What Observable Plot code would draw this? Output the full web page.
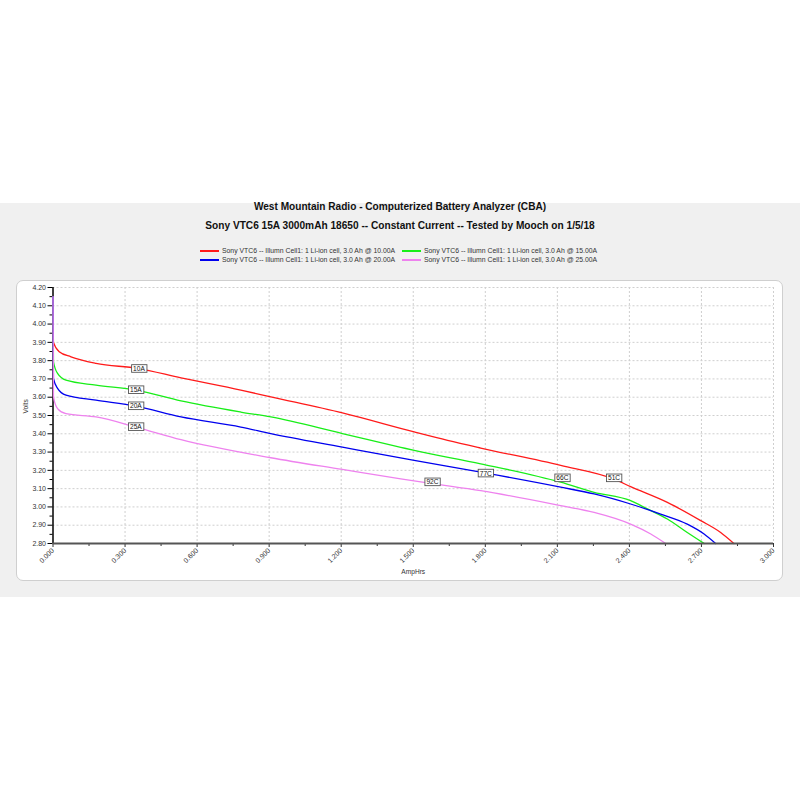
<!DOCTYPE html>
<html>
<head>
<meta charset="utf-8">
<script src="https://cdn.jsdelivr.net/npm/d3@7"></script>
<script src="https://cdn.jsdelivr.net/npm/@observablehq/plot@0.6"></script>
<style>
  html, body { margin: 0; padding: 0; background: #ffffff; width: 800px; height: 800px; overflow: hidden; font-family: "Liberation Sans", Arial, sans-serif; }
  #band { position: absolute; left: 0; top: 203px; width: 800px; height: 394px; background: #f0f0f0; }
  .title { position: absolute; left: 0; width: 800px; text-align: center; font-weight: bold; color: #111; white-space: nowrap; }
  #panel { position: absolute; left: 16px; top: 280px; width: 765px; height: 299px; background: #fff; border: 1px solid #cfcfcf; border-radius: 7px; }
  #chart { position: absolute; left: 16px; top: 280px; }
  .leg { position: absolute; font-size: 6.85px; color: #333; white-space: nowrap; line-height: 8px; }
  .legline { position: absolute; height: 2px; width: 19px; }
</style>
</head>
<body>
<div id="band"></div>
<div class="title" style="top:201px;font-size:10.1px;line-height:12px;">West Mountain Radio - Computerized Battery Analyzer (CBA)</div>
<div class="title" style="top:220px;font-size:10.15px;line-height:12px;">Sony VTC6 15A 3000mAh 18650 -- Constant Current -- Tested by Mooch on 1/5/18</div>
<div id="legend"></div>
<div id="panel"></div>
<div id="chart"></div>
<script>
// ---- data ----
const seriesNames = [
  "Sony VTC6 -- Illumn Cell1: 1 Li-ion cell, 3.0 Ah @ 10.00A",
  "Sony VTC6 -- Illumn Cell1: 1 Li-ion cell, 3.0 Ah @ 15.00A",
  "Sony VTC6 -- Illumn Cell1: 1 Li-ion cell, 3.0 Ah @ 20.00A",
  "Sony VTC6 -- Illumn Cell1: 1 Li-ion cell, 3.0 Ah @ 25.00A"
];
const seriesColors = ["#ff1a1a", "#18ee18", "#0000ee", "#ee82ee"];

const ampHrs10 = [0, 0.002, 0.026, 0.075, 0.179, 0.352, 0.533, 0.782, 0.907, 1.205, 1.504, 1.643, 1.781, 2.114, 2.336, 2.405, 2.558, 2.697, 2.780, 2.835];
const volts10  = [4.15, 3.90, 3.849, 3.821, 3.785, 3.758, 3.706, 3.639, 3.602, 3.514, 3.410, 3.364, 3.322, 3.227, 3.152, 3.111, 3.025, 2.925, 2.860, 2.800];

const ampHrs15 = [0, 0.002, 0.019, 0.054, 0.179, 0.345, 0.533, 0.782, 0.907, 1.205, 1.448, 1.504, 1.781, 2.114, 2.253, 2.405, 2.475, 2.558, 2.641, 2.711];
const volts15  = [4.15, 3.794, 3.730, 3.693, 3.666, 3.639, 3.580, 3.519, 3.492, 3.401, 3.326, 3.309, 3.236, 3.135, 3.080, 3.034, 2.989, 2.934, 2.860, 2.800];

const ampHrs20 = [0, 0.002, 0.019, 0.054, 0.179, 0.345, 0.533, 0.782, 0.907, 1.205, 1.504, 1.781, 2.114, 2.253, 2.405, 2.530, 2.641, 2.711, 2.759];
const volts20  = [4.15, 3.703, 3.648, 3.611, 3.584, 3.551, 3.492, 3.437, 3.401, 3.327, 3.254, 3.190, 3.108, 3.071, 3.016, 2.961, 2.906, 2.852, 2.800];

const ampHrs25 = [0, 0.002, 0.019, 0.054, 0.179, 0.345, 0.533, 0.907, 1.205, 1.448, 1.580, 1.781, 2.114, 2.253, 2.405, 2.489, 2.551];
const volts25  = [4.15, 3.602, 3.538, 3.510, 3.492, 3.437, 3.368, 3.269, 3.205, 3.154, 3.128, 3.089, 3.007, 2.970, 2.906, 2.852, 2.800];

const labelText = ["10A", "15A", "20A", "25A", "92C", "77C", "66C", "51C"];
const labelAmpHrs = [0.358, 0.345, 0.345, 0.345, 1.580, 1.802, 2.121, 2.336];
const labelVolts  = [3.755, 3.639, 3.551, 3.437, 3.135, 3.183, 3.157, 3.157];

const xTicks = [0, 0.3, 0.6, 0.9, 1.2, 1.5, 1.8, 2.1, 2.4, 2.7, 3.0];
const xMinorTicks = [0.15, 0.45, 0.75, 1.05, 1.35, 1.65, 1.95, 2.25, 2.55, 2.85];
const yTicks = [2.8, 2.9, 3.0, 3.1, 3.2, 3.3, 3.4, 3.5, 3.6, 3.7, 3.8, 3.9, 4.0, 4.1, 4.2];
const yMinorTicks = [2.85, 2.95, 3.05, 3.15, 3.25, 3.35, 3.45, 3.55, 3.65, 3.75, 3.85, 3.95, 4.05, 4.15];

// ---- build table ----
const xs = [ampHrs10, ampHrs15, ampHrs20, ampHrs25];
const ys = [volts10, volts15, volts20, volts25];
const rows = [];
xs.forEach((arr, i) => arr.forEach((x, j) => rows.push({series: seriesNames[i], ah: x, v: ys[i][j]})));
const labels = labelText.map((t, i) => ({t, ah: labelAmpHrs[i], v: labelVolts[i]}));

// ---- legend ----
const legend = document.getElementById("legend");
const legPos = [[200, 247], [402, 247], [200, 255.5], [402, 255.5]];
seriesNames.forEach((name, i) => {
  const [lx, ly] = legPos[i];
  const ln = document.createElement("div");
  ln.className = "legline";
  ln.style.left = lx + "px"; ln.style.top = (ly + 3) + "px"; ln.style.background = seriesColors[i];
  legend.appendChild(ln);
  const tx = document.createElement("div");
  tx.className = "leg";
  tx.style.left = (lx + 22) + "px"; tx.style.top = ly + "px";
  tx.textContent = name;
  legend.appendChild(tx);
});

// ---- chart ----
const chart = Plot.plot({
  width: 767,
  height: 300,
  marginLeft: 36.5,
  marginRight: 10,
  marginTop: 7,
  marginBottom: 37,
  style: {fontFamily: "Liberation Sans, Arial, sans-serif", fontSize: "7px", background: "transparent", color: "#333"},
  x: {domain: [0, 3.0]},
  y: {domain: [2.8, 4.2]},
  color: {domain: seriesNames, range: seriesColors},
  marks: [
    Plot.gridX(xTicks.filter(d => d > 0), {stroke: "#cfcfcf", strokeOpacity: 1, strokeDasharray: "2,2"}),
    Plot.gridY(yTicks.filter(d => d > 2.8), {stroke: "#cfcfcf", strokeOpacity: 1, strokeDasharray: "2,2"}),
    Plot.axisY(yTicks, {tickFormat: d3.format(".2f"), tickSize: 5, tickPadding: 2, stroke: "#000", label: null, fill: "#333"}),
    Plot.axisY(yMinorTicks, {tickSize: 3, text: null, stroke: "#000", label: null}),
    Plot.axisX(xTicks, {tickFormat: d3.format(".3f"), tickSize: 4, tickPadding: 2, tickRotate: -45, stroke: "#333", label: null, fill: "#333"}),
    Plot.axisX(xMinorTicks, {tickSize: 3, text: null, stroke: "#333", label: null}),
    Plot.ruleX([0], {stroke: "#000", strokeWidth: 1.5}),
    Plot.line(rows, {x: "ah", y: "v", z: "series", stroke: "series", strokeWidth: 1.3, curve: "monotone-x"}),
    Plot.ruleY([2.8], {stroke: "#555", strokeWidth: 2}),
    Plot.text(labels, {x: "ah", y: "v", text: "t", fontSize: 6.6, fill: "#111"}),
    Plot.text(["Volts"], {frameAnchor: "left", dx: -27, dy: -2, rotate: -90, fontSize: 6.6, fill: "#333"}),
    Plot.text(["AmpHrs"], {frameAnchor: "bottom", dy: 30, fontSize: 6.6, fill: "#333"})
  ]
});
document.getElementById("chart").appendChild(chart);

// boxes behind curve labels
const svgNS = "http://www.w3.org/2000/svg";
const textGroups = chart.querySelectorAll('g[aria-label="text"]');
if (textGroups.length) {
  const g = textGroups[0];
  g.querySelectorAll("text").forEach(t => {
    const b = t.getBBox();
    const r = document.createElementNS(svgNS, "rect");
    r.setAttribute("x", b.x - 1.5);
    r.setAttribute("y", b.y - 0.3);
    r.setAttribute("width", b.width + 3);
    r.setAttribute("height", b.height + 0.6);
    r.setAttribute("fill", "#fff");
    r.setAttribute("stroke", "#555");
    r.setAttribute("stroke-width", "0.9");
    const tr = t.getAttribute("transform");
    if (tr) r.setAttribute("transform", tr);
    g.insertBefore(r, t);
  });
}
</script>
</body>
</html>
